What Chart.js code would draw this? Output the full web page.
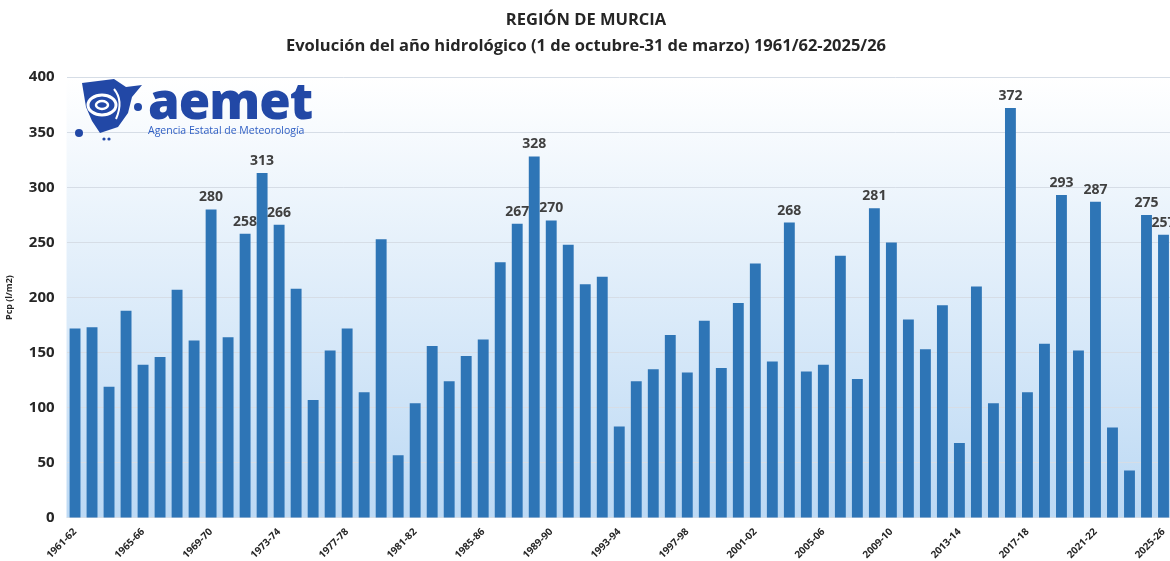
<!DOCTYPE html>
<html lang="es">
<head>
<meta charset="utf-8">
<title>Región de Murcia - año hidrológico</title>
<script src="https://cdn.jsdelivr.net/npm/chart.js@4.4.1/dist/chart.umd.min.js"></script>
<style>
    html, body { margin: 0; padding: 0; background: #fff; overflow: hidden; }
    #wrap { position: relative; width: 1172px; height: 561px; }
    #logo { position: absolute; left: 74px; top: 77px; width: 250px; height: 64px; pointer-events: none; }
    #logo .brand {
        position: absolute; left: 74px; top: -13px;
        font-family: 'Open Sans', sans-serif; font-weight: 800; font-size: 51px;
        color: #2248a6; letter-spacing: -1px;
    }
    #logo .sub {
        position: absolute; left: 74px; top: 46px;
        font-family: 'Open Sans', sans-serif; font-size: 10.5px; color: #2f5fc4; white-space: nowrap;
    }
</style>
</head>
<body>
<div id="wrap">
    <canvas id="chart"></canvas>
    <div id="logo">
        <svg width="72" height="64" viewBox="0 0 72 64" style="position:absolute;left:0;top:0">
            <path d="M8 6 L40 2 L52 10 L68 8 L58 20 L54 36 L44 50 L26 56 L18 44 L12 30 Z" fill="#2248a6"/>
            <ellipse cx="28" cy="28" rx="14" ry="10" fill="none" stroke="#fff" stroke-width="3"/>
            <ellipse cx="28" cy="28" rx="6" ry="4" fill="none" stroke="#fff" stroke-width="2.5"/>
            <path d="M40 12 Q50 24 42 42" fill="none" stroke="#fff" stroke-width="2"/>
            <circle cx="64" cy="30" r="4" fill="#2248a6"/>
            <circle cx="5" cy="56" r="4" fill="#2248a6"/>
            <circle cx="30" cy="62" r="1.6" fill="#2248a6"/>
            <circle cx="35" cy="62" r="1.6" fill="#2248a6"/>
        </svg>
        <div class="brand">aemet</div>
        <div class="sub">Agencia Estatal de Meteorología</div>
    </div>
</div>
<script>
// --- Data ---
const startYears = [];
for (let y = 1961; y <= 2025; y++) startYears.push(y);
const seasons = startYears.map(y => y + '-' + String((y + 1) % 100).padStart(2, '0'));

const precipitation = [
    172, 173, 119, 188, 139, 146, 207, 161, 280, 164,
    258, 313, 266, 208, 107, 152, 172, 114, 253, 57,
    104, 156, 124, 147, 162, 232, 267, 328, 270, 248,
    212, 219, 83, 124, 135, 166, 132, 179, 136, 195,
    231, 142, 268, 133, 139, 238, 126, 281, 250, 180,
    153, 193, 68, 210, 104, 372, 114, 158, 293, 152,
    287, 82, 43, 275, 257
];

const yTicks = [0, 50, 100, 150, 200, 250, 300, 350, 400];
const labelThreshold = 255;

const colors = {
    bar: '#2e75b6',
    grid: '#d6dde6',
    text: '#262626',
    label: '#404040',
    bgTop: '#ffffff',
    bgBottom: '#bcd9f4'
};

// --- Plot area gradient ---
const plotBackground = {
    id: 'plotBackground',
    beforeDraw(chart) {
        const { ctx, chartArea: a } = chart;
        const g = ctx.createLinearGradient(0, a.top, 0, a.bottom);
        g.addColorStop(0, colors.bgTop);
        g.addColorStop(1, colors.bgBottom);
        ctx.save();
        ctx.fillStyle = g;
        ctx.fillRect(a.left, a.top, a.right - a.left, a.bottom - a.top);
        ctx.restore();
    }
};

// --- Value labels over the wettest years ---
const valueLabels = {
    id: 'valueLabels',
    afterDatasetsDraw(chart) {
        const { ctx } = chart;
        const meta = chart.getDatasetMeta(0);
        ctx.save();
        ctx.font = "bold 14px 'Open Sans', sans-serif";
        ctx.fillStyle = colors.label;
        ctx.textAlign = 'center';
        ctx.textBaseline = 'bottom';
        meta.data.forEach((bar, i) => {
            const v = precipitation[i];
            if (v > labelThreshold) ctx.fillText(String(v), bar.x, bar.y - 5);
        });
        ctx.restore();
    }
};

const ctx = document.getElementById('chart').getContext('2d');
new Chart(ctx, {
    type: 'bar',
    data: {
        labels: seasons,
        datasets: [{
            data: precipitation,
            backgroundColor: colors.bar,
            barPercentage: 0.64,
            categoryPercentage: 1.0
        }]
    },
    options: {
        responsive: true,
        maintainAspectRatio: false,
        animation: false,
        layout: { padding: { left: 0, right: 0, top: 8, bottom: 0 } },
        plugins: {
            legend: { display: false },
            tooltip: { enabled: false },
            title: {
                display: true,
                text: ['REGIÓN DE MURCIA', 'Evolución del año hidrológico (1 de octubre-31 de marzo) 1961/62-2025/26'],
                color: colors.text,
                font: { family: "'Open Sans', sans-serif", size: 16.5, weight: 'bold', lineHeight: 1.55 },
                padding: { top: 0, bottom: 18 }
            }
        },
        scales: {
            x: {
                grid: { display: false },
                border: { display: false },
                ticks: {
                    autoSkip: false,
                    maxRotation: 45,
                    minRotation: 45,
                    color: colors.text,
                    font: { family: "'Open Sans', sans-serif", size: 10, weight: 'bold' },
                    padding: 0,
                    callback: (val, i) => (i % 4 === 0 ? seasons[i] : '')
                }
            },
            y: {
                min: yTicks[0],
                max: yTicks[yTicks.length - 1],
                afterBuildTicks: axis => { axis.ticks = yTicks.map(v => ({ value: v })); },
                grid: { color: colors.grid, drawTicks: false },
                border: { display: false },
                title: {
                    display: true,
                    text: 'Pcp (l/m2)',
                    color: colors.text,
                    font: { family: "'Open Sans', sans-serif", size: 9, weight: 'bold' },
                    padding: { top: 4, bottom: 2 }
                },
                ticks: {
                    color: colors.text,
                    font: { family: "'Open Sans', sans-serif", size: 15, weight: 'bold' },
                    padding: 12
                }
            }
        }
    },
    plugins: [plotBackground, valueLabels]
});
</script>
</body>
</html>
